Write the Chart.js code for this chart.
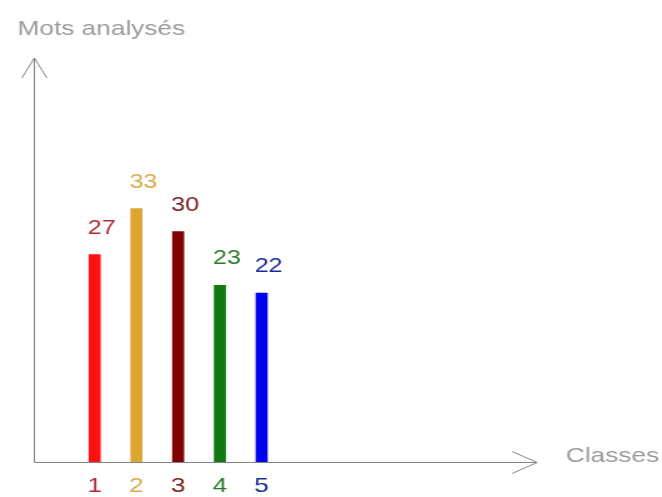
<!DOCTYPE html>
<html>
<head>
<meta charset="utf-8">
<script src="https://cdn.jsdelivr.net/npm/chart.js@4.4.1/dist/chart.umd.min.js"></script>
<style>
  body { margin: 0; background: #fff; }
</style>
</head>
<body>
<!-- the original picture is stretched sideways, so the canvas is too -->
<canvas id="myChart" width="530" height="497" style="width: 662px; height: 497px; display: block;"></canvas>
<script>
const classes = [1, 2, 3, 4, 5]
const tickLabels = ['1', '2', '3', '4', '5']
const counts = [27, 33, 30, 23, 22]
const barColors = ['#ff1010', '#dca530', '#800000', '#107a10', '#0000f0']
const textColors = ['#b02a3a', '#d8aa50', '#7a1a1a', '#2a7a2a', '#1c2a9a']

const yTitle = 'Mots analysés'
const xTitle = 'Classes'

const font = "'Liberation Sans', Arial, sans-serif"
const axisColor = '#858585'

// axes with arrow heads, titles, tick labels and value labels
const drawing = {
    id: 'drawing',
    afterDatasetsDraw(chart) {
        const ctx = chart.ctx
        const a = chart.chartArea
        const xs = chart.scales.x
        ctx.save()

        ctx.strokeStyle = axisColor
        ctx.lineWidth = 1
        ctx.beginPath()
        ctx.moveTo(a.left + 0.5, a.top)
        ctx.lineTo(a.left + 0.5, a.bottom + 0.5)
        ctx.lineTo(a.right, a.bottom + 0.5)
        // top arrow
        ctx.moveTo(a.left - 9.5, a.top + 20)
        ctx.lineTo(a.left + 0.5, a.top)
        ctx.lineTo(a.left + 10.5, a.top + 20)
        // right arrow
        ctx.moveTo(a.right - 20, a.bottom - 10.5)
        ctx.lineTo(a.right, a.bottom + 0.5)
        ctx.lineTo(a.right - 20, a.bottom + 11.5)
        ctx.stroke()

        ctx.font = '21px ' + font
        ctx.fillStyle = '#9a9a9a'
        ctx.textAlign = 'left'
        ctx.textBaseline = 'middle'
        ctx.fillText(yTitle, 14, 29)
        ctx.fillText(xTitle, 453, 456)

        ctx.textAlign = 'center'
        xs.ticks.forEach((t, i) => {
            ctx.fillStyle = textColors[i]
            ctx.fillText(tickLabels[i], xs.getPixelForValue(t.value), 486)
        })

        ctx.font = '20px ' + font
        ctx.textAlign = 'left'
        ctx.textBaseline = 'alphabetic'
        chart.getDatasetMeta(0).data.forEach((bar, i) => {
            ctx.fillStyle = textColors[i]
            ctx.fillText(String(counts[i]), bar.x - bar.width / 2 - 1, bar.y - 21)
        })
        ctx.restore()
    }
}

new Chart('myChart', {
    type: 'bar',
    data: {
        datasets: [{
            data: classes.map((c, i) => ({ x: c, y: counts[i] })),
            backgroundColor: barColors,
            barThickness: 9
        }]
    },
    options: {
        responsive: false,
        animation: false,
        layout: {
            padding: { left: 27, top: 58, right: 100, bottom: 35 }
        },
        scales: {
            x: {
                type: 'linear',
                display: false,
                offset: false,
                min: -0.46,
                max: 11.6,
                afterBuildTicks: (scale) => {
                    scale.ticks = classes.map(v => ({ value: v }))
                }
            },
            y: {
                display: false,
                min: 0,
                max: 52.6
            }
        },
        plugins: {
            legend: { display: false },
            tooltip: { enabled: false }
        }
    },
    plugins: [drawing]
})
</script>
</body>
</html>
